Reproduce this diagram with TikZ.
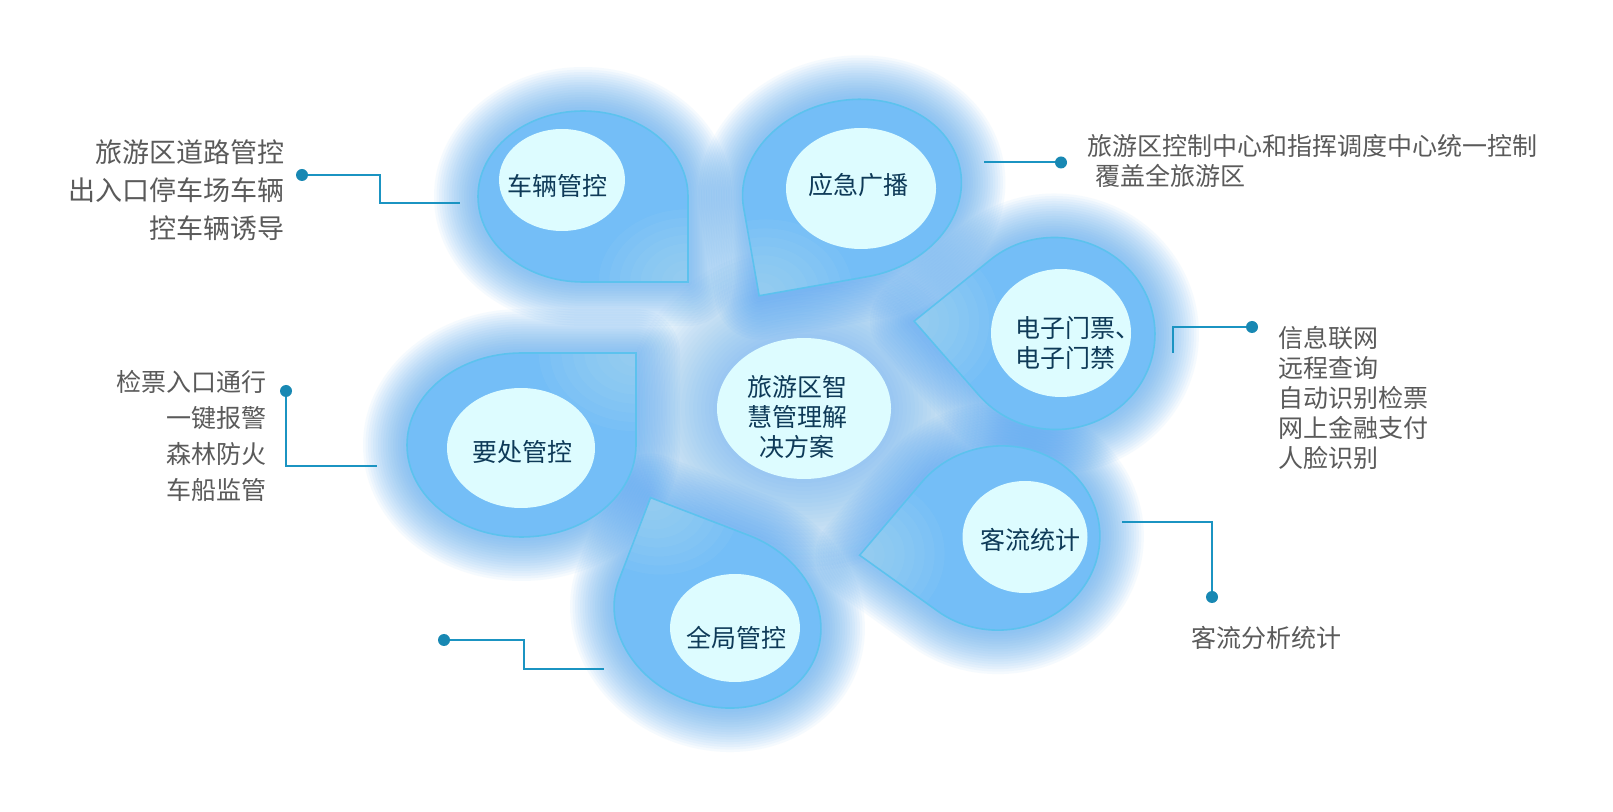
\documentclass[tikz,border=0pt]{standalone}
\usepackage{fontspec}
\setmainfont{Noto Sans CJK SC}
\usetikzlibrary{shapes.geometric}
\definecolor{bodyc}{HTML}{74BEF7}
\definecolor{cornerc}{HTML}{B4DEF0}
\definecolor{edgec}{HTML}{5CC2EE}
\definecolor{glowc}{HTML}{4DA3F2}
\definecolor{innerc}{HTML}{DDFCFF}
\definecolor{navyc}{HTML}{0E3A58}
\definecolor{greyc}{HTML}{5A5A5A}
\definecolor{connc}{HTML}{1B94C2}
\definecolor{dotc}{HTML}{1888B3}
\newcommand\tearpath{(0,1) .. controls (-0.5523,1) and (-1,0.5523) .. (-1,0) .. controls (-1,-0.5523) and (-0.5523,-1) .. (0,-1) .. controls (0.5523,-1) and (1,-0.5523) .. (1,0) -- (1,1) -- cycle}
\newcommand\tdglow[6]{%
 \begin{scope}[shift={(#1,#2)},rotate=#3,xscale=#4,yscale=#5,rotate=#6]
  \foreach \w in {4,6.5,...,44}
   {\draw[glowc,line width=\w pt,opacity=0.05,line join=round] \tearpath;}
 \end{scope}}
\newcommand\tdbody[6]{%
 \begin{scope}[shift={(#1,#2)},rotate=#3,xscale=#4,yscale=#5,rotate=#6]
  \fill[bodyc] \tearpath;
  \begin{scope}
   \clip \tearpath;
   \foreach \r in {0.15,0.25,...,0.9}
    {\fill[cornerc,opacity=0.09] (1,1) circle[radius=\r];}
  \end{scope}
  \draw[edgec,line width=0.8pt] \tearpath;
 \end{scope}}
\begin{document}
\begin{tikzpicture}[x=0.5pt,y=-0.5pt,
  inner/.style={ellipse,fill=innerc,draw=none,inner sep=0pt},
  intext/.style={text=navyc,inner sep=0pt,font=\fontsize{12.5}{15}\selectfont},
  label/.style={text=greyc,inner sep=0pt,font=\fontsize{12.5}{15}\selectfont},
  conn/.style={draw=connc,line width=1pt},
  dot/.style={circle,fill=dotc,inner sep=0pt,minimum size=6pt}]
\useasboundingbox (0,0) rectangle (1613,812);
\fill[white] (0,0) rectangle (1613,812);
% glows
\foreach \w in {4,8,...,92}
 {\draw[glowc,line width=\w pt,opacity=0.033] (804,408.5) ellipse[x radius=87,y radius=70.5];}
\tdglow{583}{196.5}{0}{105}{85.5}{0}
\tdglow{852}{189}{10}{110}{89}{-90}
\tdglow{1055}{333.5}{-5}{100}{96}{225}
\tdglow{521.5}{445}{0}{114.5}{92}{90}
\tdglow{1000}{538}{7}{100}{92}{225}
\tdglow{717.5}{617.6}{-21}{105.5}{88}{180}
% bodies
\tdbody{583}{196.5}{0}{105}{85.5}{0}
\tdbody{852}{189}{10}{110}{89}{-90}
\tdbody{1055}{333.5}{-5}{100}{96}{225}
\tdbody{521.5}{445}{0}{114.5}{92}{90}
\tdbody{1000}{538}{7}{100}{92}{225}
\tdbody{717.5}{617.6}{-21}{105.5}{88}{180}
% inner ellipses
\node[inner,minimum width=63pt,minimum height=51pt] (in1) at (562,180) {};
\node[inner,minimum width=75pt,minimum height=60.5pt] (in2) at (861,188.5) {};
\node[inner,minimum width=70pt,minimum height=64pt] (in3) at (1061,333) {};
\node[inner,minimum width=74pt,minimum height=60pt] (in4) at (521,448) {};
\node[inner,minimum width=62.5pt,minimum height=56pt] (in5) at (1025,537) {};
\node[inner,minimum width=65pt,minimum height=54pt] (in6) at (735,628) {};
\node[inner,minimum width=87pt,minimum height=70.5pt] (cen) at (804,408.5) {};
% inner texts
\node[intext] (t1) at (557,186) {车辆管控};
\node[intext] (t2) at (858,185) {应急广播};
\node[intext,anchor=west,align=left] (t3) at (1015,343.5) {电子门票、\\电子门禁};
\node[intext] (t4) at (522,452) {要处管控};
\node[intext] (t5) at (1030,540) {客流统计};
\node[intext] (t6) at (736,638) {全局管控};
\node[intext,align=center] (tc) at (797,417) {旅游区智\\慧管理解\\决方案};
% labels
\node[label,anchor=east,align=right,font=\fontsize{13.5}{19}\selectfont] (l1) at (285,190.3) {旅游区道路管控\\出入口停车场车辆\\控车辆诱导};
\node[label,anchor=west,align=left] (l2) at (1087,161) {旅游区控制中心和指挥调度中心统一控制\\\hspace*{4pt}覆盖全旅游区};
\node[label,anchor=west,align=left] (l3) at (1278,398) {信息联网\\远程查询\\自动识别检票\\网上金融支付\\人脸识别};
\node[label] (l4) at (1266,638) {客流分析统计};
\node[label,anchor=east,align=right,font=\fontsize{12.5}{18}\selectfont] (l5) at (267,435.5) {检票入口通行\\一键报警\\森林防火\\车船监管};
% connector ends
\coordinate (c1) at (460,203);
\coordinate (c2) at (984,162.5);
\coordinate (c3) at (1173,353);
\coordinate (c4) at (1122,522);
\coordinate (c5) at (377,466);
\coordinate (c6) at (604,669);
\coordinate (d1) at (302,175);
\coordinate (d2) at (1061,162.5);
\coordinate (d3) at (1252,327);
\coordinate (d4) at (1212,597);
\coordinate (d5) at (286,391);
\coordinate (d6) at (444,640);
\draw[conn] (d1) -- ++(78,0) |- (c1);
\draw[conn] (c2) -- (d2);
\draw[conn] (c3) |- (d3);
\draw[conn] (c4) -| (d4);
\draw[conn] (d5) |- (c5);
\draw[conn] (d6) -- ++(80,0) |- (c6);
\node[dot] (p1) at (d1) {};
\node[dot] (p2) at (d2) {};
\node[dot] (p3) at (d3) {};
\node[dot] (p4) at (d4) {};
\node[dot] (p5) at (d5) {};
\node[dot] (p6) at (d6) {};
\end{tikzpicture}
\end{document}
